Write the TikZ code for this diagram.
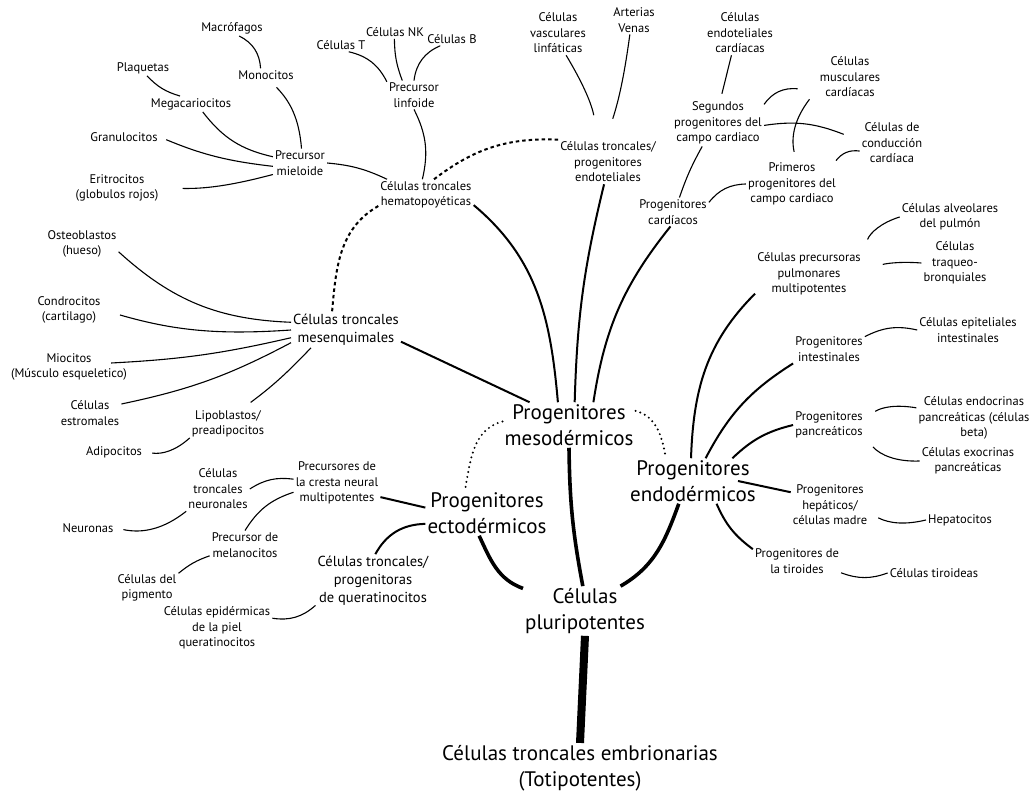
\documentclass[tikz,border=0pt]{standalone}
\usepackage{fontspec}
\setmainfont{PT Sans}
\tikzset{
  cell/.style={align=center,inner sep=2pt,font=\fontsize{12.5}{15.5}\selectfont},
  cellm/.style={cell,font=\fontsize{14.5}{18}\selectfont},
  germ/.style={align=center,inner sep=2pt,font=\fontsize{21}{26}\selectfont},
  twig/.style={line width=1.1pt},
  branch/.style={line width=2pt},
  trunk/.style={line width=3.6pt},
  hemdash/.style={line width=2pt,dash pattern=on 3.5pt off 3pt},
  germdot/.style={line width=2.2pt,line cap=round,dash pattern=on 0pt off 5pt}
}
\begin{document}
\begin{tikzpicture}[x=1pt,y=1pt]
\useasboundingbox (0,0) rectangle (1034,796);
\node (macrofagos) at (232,768) [cell] {Macrófagos};
\node (monocitos) at (266,721) [cell] {Monocitos};
\node (plaquetas) at (143,728) [cell] {Plaquetas};
\node (megacario) at (191,692) [cell] {Megacariocitos};
\node (granulo) at (124,659) [cell] {Granulocitos};
\node (eritro) at (117,608) [cell] {Eritrocitos\\(globulos rojos)};
\node (mieloide) at (300,633) [cell] {Precursor\\mieloide};
\node (celT) at (341,751) [cell] {Células T};
\node (celNK) at (395,764) [cell] {Células NK};
\node (celB) at (452,757) [cell] {Células B};
\node (linfoide) at (414,701) [cell] {Precursor\\linfoide};
\node (hemato) at (426,601) [cell] {Células troncales\\hematopoyéticas};
\node (vascular) at (558,763) [cell] {Células\\vasculares\\linfáticas};
\node (arterias) at (634,776) [cell] {Arterias\\Venas};
\node (endotel) at (608,634) [cell] {Células troncales/\\progenitores\\endoteliales};
\node (endocard) at (740,763) [cell] {Células\\endoteliales\\cardíacas};
\node (muscard) at (850,719) [cell] {Células\\musculares\\cardíacas};
\node (segundos) at (718,673) [cell] {Segundos\\progenitores del\\campo cardiaco};
\node (conduccion) at (892,653) [cell] {Células de\\conducción\\cardíaca};
\node (primeros) at (792,612) [cell] {Primeros\\progenitores del\\campo cardiaco};
\node (cardiacos) at (673,584) [cell] {Progenitores\\cardíacos};
\node (alveolares) at (950,579) [cell] {Células alveolares\\del pulmón};
\node (traqueo) at (955,533) [cell] {Células\\traqueo-\\bronquiales};
\node (pulmonar) at (809,522) [cell] {Células precursoras\\pulmonares\\multipotentes};
\node (epitel) at (968,466) [cell] {Células epiteliales\\intestinales};
\node (intestin) at (829,447) [cell] {Progenitores\\intestinales};
\node (endocrin) at (974,378) [cell] {Células endocrinas\\pancreáticas (células\\beta)};
\node (pancrea) at (829,371) [cell] {Progenitores\\pancreáticos};
\node (exocrin) at (968,335) [cell] {Células exocrinas\\pancreáticas};
\node (hepatic) at (830,291) [cell] {Progenitores\\hepáticos/\\células madre};
\node (hepatocitos) at (960,276) [cell] {Hepatocitos};
\node (tiroides) at (797,235) [cell] {Progenitores de\\la tiroides};
\node (tiroideas) at (934,223) [cell] {Células tiroideas};
\node (endo) at (693,315) [germ] {Progenitores\\endodérmicos};
\node (meso) at (569,371) [germ] {Progenitores\\mesodérmicos};
\node (ecto) at (487,283) [germ] {Progenitores\\ectodérmicos};
\node (pluri) at (585,185) [germ] {Células\\pluripotentes};
\node (toti) at (580,28) [germ] {Células troncales embrionarias\\(Totipotentes)};
\node (osteo) at (82,552) [cell] {Osteoblastos\\(hueso)};
\node (condro) at (69,486) [cell] {Condrocitos\\(cartilago)};
\node (mio) at (69,429) [cell] {Miocitos\\(Músculo esqueletico)};
\node (estrom) at (90,383) [cell] {Células\\estromales};
\node (mesenq) at (346,466) [cellm] {Células troncales\\mesenquimales};
\node (lipo) at (228,372) [cell] {Lipoblastos/\\preadipocitos};
\node (adipo) at (114,344) [cell] {Adipocitos};
\node (neuronal) at (218,307) [cell] {Células\\troncales\\neuronales};
\node (cresta) at (337,313) [cell] {Precursores de\\la cresta neural\\multipotentes};
\node (neuronas) at (88,268) [cell] {Neuronas};
\node (melano) at (245,251) [cell] {Precursor de\\melanocitos};
\node (pigmento) at (147,208) [cell] {Células del\\pigmento};
\node (epiderm) at (217,168) [cell] {Células epidérmicas\\de la piel\\queratinocitos};
\node (querat) at (373,215) [cellm] {Células troncales/\\progenitoras\\de queratinocitos};
\draw [twig] (macrofagos.-48) to[bend left=30] (monocitos.129);
\draw [twig] (plaquetas.-63) to[bend right=15] (megacario.144);
\draw [twig,shorten <=8pt] (monocitos.-54) to[bend left=20] (mieloide.84);
\draw [twig] (megacario.-34) to[bend right=20] (mieloide.167);
\draw [twig,shorten <=7pt] (granulo.east) to[bend right=8] (mieloide.187);
\draw [twig,shorten <=22pt] (eritro.east) to[bend right=8] (mieloide.203);
\draw [twig] (mieloide.east) to[bend left=10] (hemato.158);
\draw [twig] (celT.-41) to[bend left=25] (linfoide.154);
\draw [twig] (celNK.-95) to[bend right=10] (linfoide.129);
\draw [twig] (celB.210) to[bend right=30] (linfoide.north);
\draw [twig] (linfoide.south) to[bend left=20] (hemato.103);
\draw [hemdash] (hemato.63) to[bend left=20] (endotel.155);
\draw [hemdash] (hemato.193) to[out=210,in=85] (mesenq.128);
\draw [twig,shorten >=25pt] (vascular.-70) to[bend left=10] (endotel.113);
\draw [twig,shorten >=22pt] (arterias.-106) to[bend left=5] (endotel.95);
\draw [branch] (endotel.-100) to[bend right=6] (meso.76);
\draw [branch] (hemato.-12) to[out=-40,in=95] (meso.116);
\draw [branch] (cardiacos.-100) to[bend right=15] (meso.43);
\draw [branch] (mesenq.-12) -- (meso.150);
\draw [germdot] (meso.177) to[out=195,in=80] (ecto.134);
\draw [germdot] (meso.12) to[out=-15,in=100] (endo.140);
\draw [trunk] (meso.south) to[bend right=5] (pluri.95);
\draw [trunk] (ecto.-109) to[out=-65,in=160] (pluri.160);
\draw [trunk] (endo.-122) to[out=-110,in=30] (pluri.35);
\draw [line width=8pt] (pluri.south) -- (toti.north);
\draw [twig,shorten >=6pt] (endocard.-111) -- (segundos.84);
\draw [twig] (segundos.22) to[bend left=30] ([xshift=-20pt]muscard.200);
\draw [twig] (segundos.-3) to[bend left=15] ([xshift=-16pt]conduccion.165);
\draw [twig,shorten <=9pt] (primeros.80) to[bend left=25] ([xshift=-12pt]muscard.218);
\draw [twig] (primeros.28) to[bend left=30] (conduccion.194);
\draw [twig] (cardiacos.66) to[bend left=5] (segundos.236);
\draw [twig] (cardiacos.15) to[bend left=25] (primeros.west);
\draw [branch] (pulmonar.200) to[out=225,in=88] (endo.95);
\draw [twig,shorten <=12pt] (pulmonar.north east) to[bend left=25] (alveolares.west);
\draw [twig,shorten <=22pt] (pulmonar.east) to[bend left=15] (traqueo.west);
\draw [branch] (intestin.south west) to[bend right=15] (endo.61);
\draw [twig] (intestin.19) to[bend left=20] (epitel.west);
\draw [branch] (endo.30) to[bend left=15] (pancrea.west);
\draw [twig,shorten <=12pt] (pancrea.12) to[bend left=20] (endocrin.170);
\draw [twig,shorten <=12pt] (pancrea.-20) to[bend right=25] (exocrin.west);
\draw [branch] ([xshift=-20pt]endo.east) -- (hepatic.162);
\draw [twig,shorten <=10pt] (hepatic.-12) to[bend right=20] (hepatocitos.west);
\draw [branch] (endo.-44) to[bend right=15] (tiroides.165);
\draw [twig] (tiroides.-15) to[bend right=20] (tiroideas.west);
\draw [twig] (osteo.-12) to[bend right=20] (mesenq.172);
\draw [twig,shorten <=18pt] (condro.east) to[bend right=10] (mesenq.west);
\draw [twig] ([xshift=-18pt,yshift=4pt]mio.east) to[bend right=5] (mesenq.188);
\draw [twig] (estrom.16) to[bend right=8] (mesenq.193);
\draw [twig,shorten <=10pt] (lipo.47) to[bend right=5] (mesenq.207);
\draw [twig,shorten <=8pt] (adipo.east) to[bend right=25] (lipo.200);
\draw [branch] (cresta.-18) -- (ecto.175);
\draw [branch] (ecto.190) to[bend right=30] (querat.85);
\draw [twig] (neuronal.east) to[bend left=20] (cresta.175);
\draw [twig,shorten <=8pt] (neuronas.east) to[bend right=25] (neuronal.south west);
\draw [twig] (melano.north) to[bend left=20] (cresta.192);
\draw [twig] (pigmento.25) to[bend left=10] (melano.197);
\draw [twig] (epiderm.10) to[bend right=25] (querat.203);
\end{tikzpicture}
\end{document}
